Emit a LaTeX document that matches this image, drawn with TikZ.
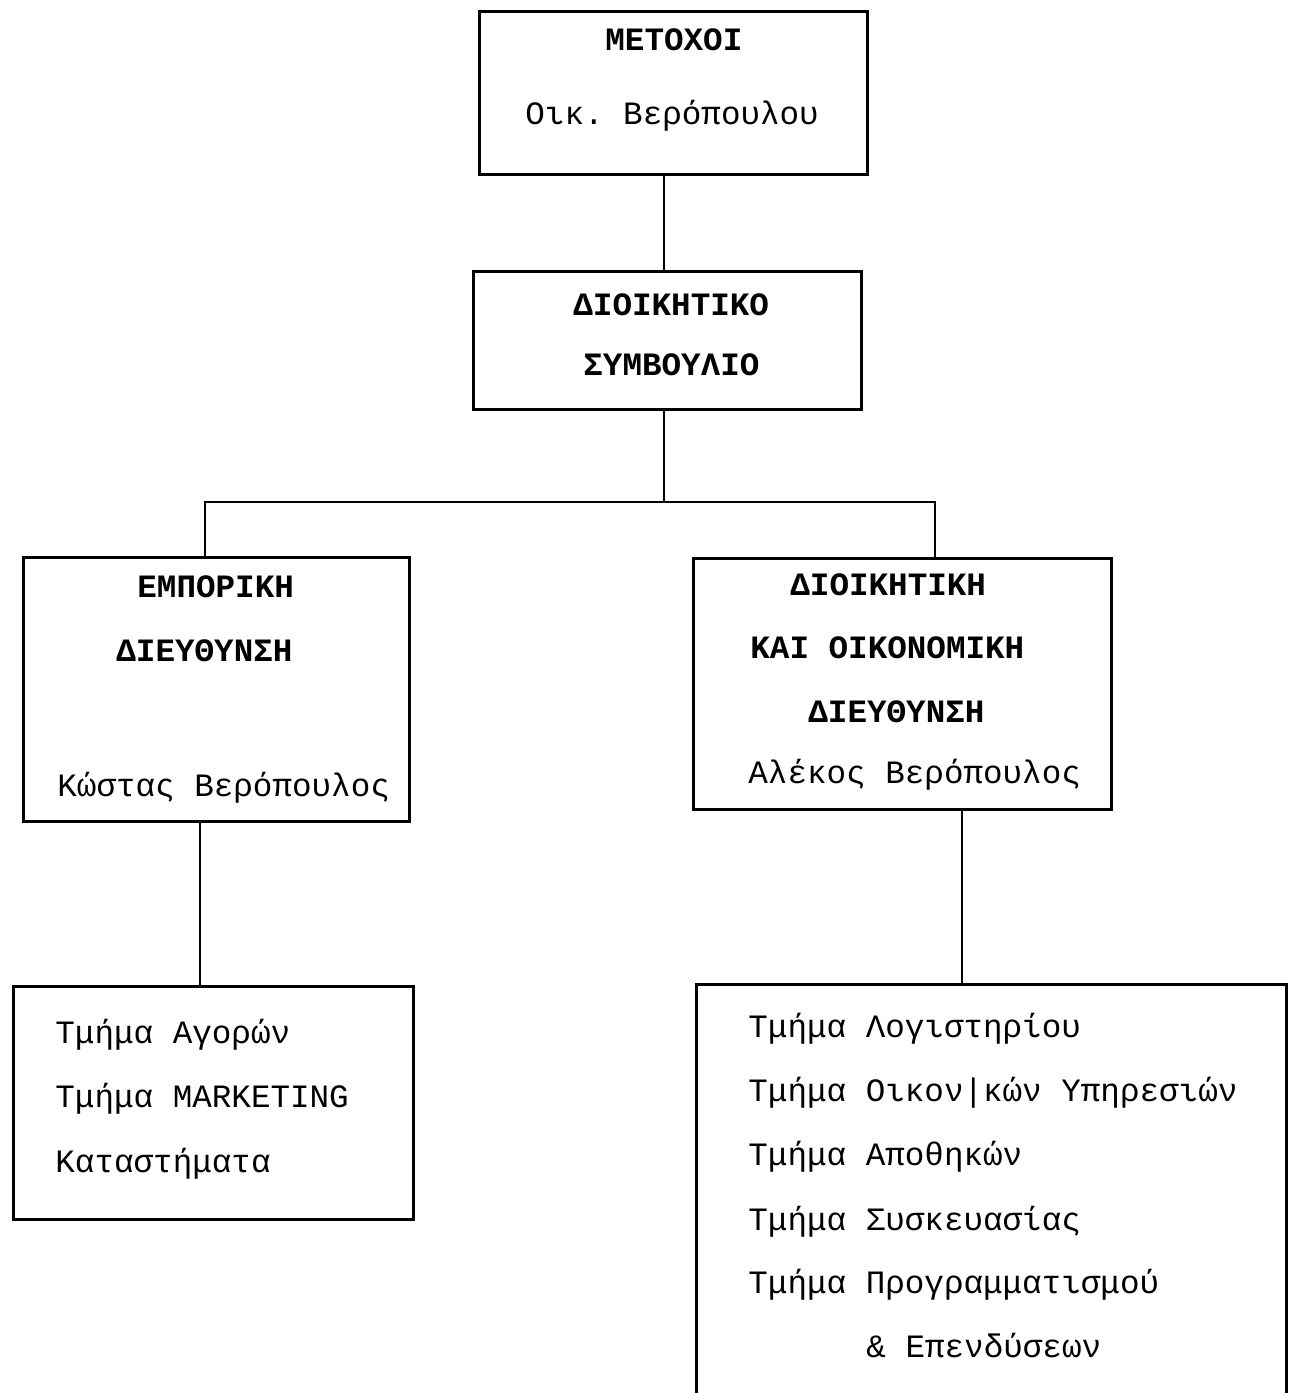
\documentclass[tikz,border=0pt]{standalone}
\usepackage{fontspec}
\setmonofont{Liberation Mono}
\begin{document}
\begin{tikzpicture}[x=0.5pt, y=-0.5pt,
  box/.style={draw, line width=1.4pt, rectangle, anchor=north west, inner sep=0pt},
  link/.style={line width=1.4pt},
  hd/.style={anchor=base west, inner sep=0pt, font=\fontsize{16.3pt}{20pt}\ttfamily\bfseries},
  txt/.style={anchor=base west, inner sep=0pt, font=\fontsize{16.3pt}{20pt}\ttfamily}]
\clip (0,0) rectangle (1290,1393);
\fill[white] (0,0) rectangle (1290,1393);

% boxes
\node[box, minimum width=194pt, minimum height=81.5pt] (b1) at (478,10) {};
\node[box, minimum width=194pt, minimum height=69pt] (b2) at (472,270) {};
\node[box, minimum width=193pt, minimum height=132pt] (b3) at (22,556) {};
\node[box, minimum width=209pt, minimum height=125.5pt] (b4) at (692,557) {};
\node[box, minimum width=200pt, minimum height=116.5pt] (b5) at (12,985) {};
\node[box, minimum width=295pt, minimum height=215pt] (b6) at (695,983) {};

% texts
\node[hd] (t1a) at (605,50) {ΜΕΤΟΧΟΙ};
\node[txt] (t1b) at (525,124) {Οικ. Βερόπουλου};

\node[hd] (t2a) at (573,315) {ΔΙΟΙΚΗΤΙΚΟ};
\node[hd] (t2b) at (583,375) {ΣΥΜΒΟΥΛΙΟ};

\node[hd] (t3a) at (137,597) {ΕΜΠΟΡΙΚΗ};
\node[hd] (t3b) at (116,661) {ΔΙΕΥΘΥΝΣΗ};
\node[txt] (t3c) at (57,796) {Κώστας Βερόπουλος};

\node[hd] (t4a) at (790,595) {ΔΙΟΙΚΗΤΙΚΗ};
\node[hd] (t4b) at (750,658) {ΚΑΙ ΟΙΚΟΝΟΜΙΚΗ};
\node[hd] (t4c) at (808,722) {ΔΙΕΥΘΥΝΣΗ};
\node[txt] (t4d) at (748,783) {Αλέκος Βερόπουλος};

\node[txt] (t5a) at (55,1043) {Τμήμα Αγορών};
\node[txt] (t5b) at (55,1107) {Τμήμα MARKETING};
\node[txt] (t5c) at (55,1172) {Καταστήματα};

\node[txt] (t6a) at (748,1037) {Τμήμα Λογιστηρίου};
\node[txt] (t6b) at (748,1101) {Τμήμα Οικον|κών Υπηρεσιών};
\node[txt] (t6c) at (748,1165) {Τμήμα Αποθηκών};
\node[txt] (t6d) at (748,1230) {Τμήμα Συσκευασίας};
\node[txt] (t6e) at (748,1293) {Τμήμα Προγραμματισμού};
\node[txt] (t6f) at (866,1357) {\& Επενδύσεων};

% connectors
\coordinate (bus) at (664,502);
\coordinate (busl) at (205,502);
\coordinate (busr) at (935,502);
\coordinate (dl) at (200,900);
\coordinate (dr) at (962,900);

\draw[link] (b1.south -| bus) -- (b2.north -| bus);
\draw[link] (b2.south -| bus) -- (bus);
\draw[link] (b3.north -| busl) -- (busl) -- (busr) -- (b4.north -| busr);
\draw[link] (b3.south -| dl) -- (b5.north -| dl);
\draw[link] (b4.south -| dr) -- (b6.north -| dr);
\end{tikzpicture}
\end{document}
